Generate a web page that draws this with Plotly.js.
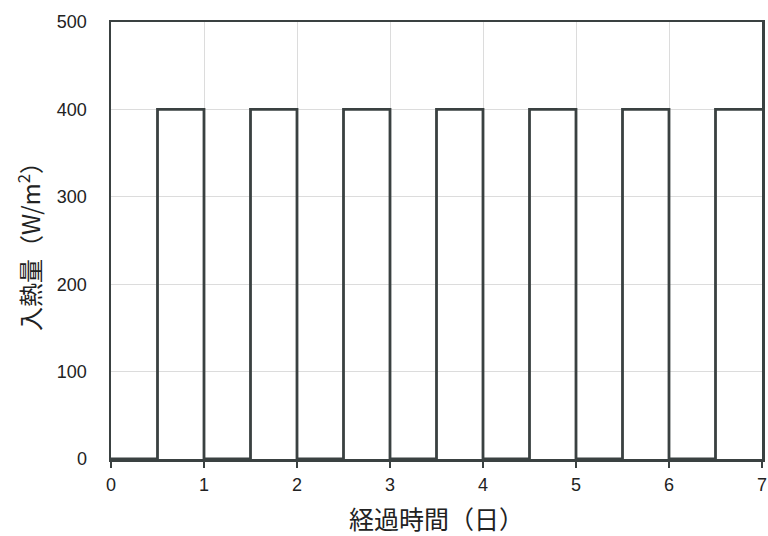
<!DOCTYPE html>
<html>
<head>
<meta charset="utf-8">
<script src="https://cdn.plot.ly/plotly-3.0.1.min.js"></script>
<style>html,body{margin:0;padding:0;background:#fff;}#chart{width:768px;height:536px;}</style>
</head>
<body>
<div id="chart"></div>
<script>
// Step times (days) and heat input (W/m2), drawn as a step line (hv)
const timeDays = [0, 0.5, 1, 1.5, 2, 2.5, 3, 3.5, 4, 4.5, 5, 5.5, 6, 6.5, 7];
const heatInput = [0, 400, 0, 400, 0, 400, 0, 400, 0, 400, 0, 400, 0, 400, 400];
const xTicks = [0, 1, 2, 3, 4, 5, 6, 7];
const yTicks = [0, 100, 200, 300, 400, 500];

const trace = {
  x: timeDays,
  y: heatInput,
  mode: 'lines',
  line: {shape: 'hv', color: '#3a4141', width: 2.8},
  hoverinfo: 'skip',
  showlegend: false
};

const tickFont = {family: 'Liberation Sans, Arial, sans-serif', size: 18, color: '#222'};
const xTitleFont = {family: 'Noto Sans CJK JP, sans-serif', size: 25, color: '#222'};
const yTitleFont = {family: 'Noto Sans CJK JP, sans-serif', size: 24, color: '#222'};

const layout = {
  width: 768, height: 536,
  margin: {l: 111, r: 6, t: 22, b: 77},
  paper_bgcolor: '#fff', plot_bgcolor: '#fff',
  xaxis: {
    range: [0, 7], tickvals: xTicks, ticktext: xTicks.map(String),
    showgrid: true, gridcolor: '#dcdcdc', gridwidth: 1,
    zeroline: false, showline: true, mirror: true, linecolor: '#3a4141', linewidth: 2.5,
    ticks: 'outside', ticklen: 6, tickcolor: '#3a4141', tickwidth: 1.5,
    ticklabelstandoff: 2,
    tickfont: tickFont,
    title: {text: '経過時間（日）', font: xTitleFont, standoff: 20}
  },
  yaxis: {
    range: [0, 500], tickvals: yTicks, ticktext: yTicks.map(String),
    showgrid: true, gridcolor: '#dcdcdc', gridwidth: 1,
    zeroline: false, showline: true, mirror: true, linecolor: '#3a4141', linewidth: 2.5,
    ticks: '', ticklabelstandoff: 18,
    tickfont: tickFont,
    title: {text: '入熱量（W/m<sup>2</sup>）', font: yTitleFont, standoff: 10}
  }
};

Plotly.newPlot('chart', [trace], layout, {displayModeBar: false, staticPlot: true});
</script>
</body>
</html>
